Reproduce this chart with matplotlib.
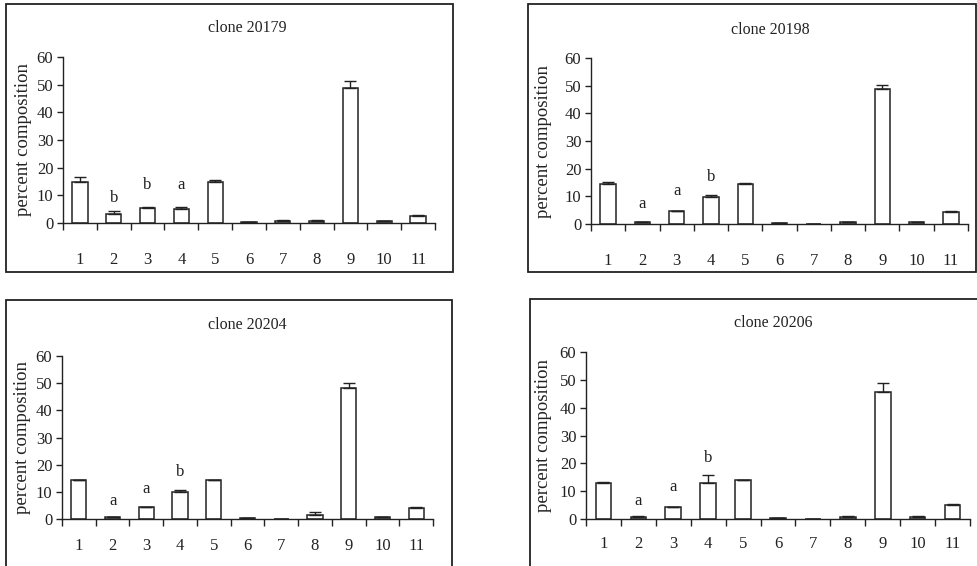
import matplotlib
matplotlib.use("Agg")
import matplotlib.pyplot as plt
from matplotlib.patches import Rectangle
from matplotlib.ticker import FixedLocator
import numpy as np

plt.rcParams['font.family'] = ['Liberation Serif', 'DejaVu Serif']

categories = ['1', '2', '3', '4', '5', '6', '7', '8', '9', '10', '11']
titles = ['clone 20179', 'clone 20198', 'clone 20204', 'clone 20206']

vals_20179 = [14.9, 3.4, 5.6, 5.1, 14.9, 0.3, 0.7, 0.7, 48.8, 0.6, 2.5]
errs_20179 = [1.8, 1.0, 0.3, 0.7, 0.6, 0.1, 0.4, 0.4, 2.6, 0.2, 0.5]
vals_20198 = [14.3, 0.6, 4.6, 9.7, 14.3, 0.3, 0.05, 0.6, 48.8, 0.6, 4.2]
errs_20198 = [1.0, 0.2, 0.1, 0.8, 0.4, 0.1, 0.0, 0.2, 1.3, 0.2, 0.4]
vals_20204 = [14.2, 0.6, 4.3, 9.9, 14.2, 0.2, 0.0, 1.5, 48.3, 0.6, 4.2]
errs_20204 = [0.3, 0.0, 0.2, 0.6, 0.3, 0.0, 0.0, 1.1, 1.9, 0.0, 0.3]
vals_20206 = [13.1, 0.8, 4.2, 13.1, 14.0, 0.2, 0.0, 0.8, 45.6, 0.8, 4.9]
errs_20206 = [0.3, 0.3, 0.2, 2.8, 0.1, 0.0, 0.0, 0.2, 3.4, 0.3, 0.4]

letters = ['b', 'b', 'a'], ['a', 'a', 'b'], ['a', 'a', 'b'], ['a', 'a', 'b']
letter_y = [[9.2, 13.9, 13.9], [7.1, 12.0, 17.1], [6.5, 11.0, 17.2], [6.5, 11.5, 22.0]]
letter_bars = [2, 3, 4]

all_vals = [vals_20179, vals_20198, vals_20204, vals_20206]
all_errs = [errs_20179, errs_20198, errs_20204, errs_20206]

W, H = 977, 566
fig = plt.figure(figsize=(W / 100, H / 100), dpi=100)
fig.patch.set_facecolor('white')

# panel frames (pixel coords: left, top, right, bottom)
frames = [(6, 4, 453, 272), (528, 4, 976, 272), (6, 300, 452, 600), (530, 299, 1000, 600)]
# axes (left, right, y0 pixel, y60 pixel)
axes_px = [(63, 435, 223, 57), (591, 968, 224, 58), (62, 433, 519, 356), (586, 970, 519, 352)]
title_xy = [(247, 28), (770, 30), (247, 325), (773, 323)]
xlabel_pad = [21, 21, 14, 12]
ylabel_x = [32, 552, 31, 552]

ink = '#222222'

for (l, t, r, b) in frames:
    fig.patches.append(Rectangle((l / W, 1 - b / H), (r - l) / W, (b - t) / H,
                                 transform=fig.transFigure, fill=False,
                                 edgecolor=ink, linewidth=1.3, clip_on=True))

x = np.arange(1, 12)
for i in range(4):
    l, r, y0, y60 = axes_px[i]
    ax = fig.add_axes([l / W, 1 - y0 / H, (r - l) / W, (y0 - y60) / H])
    ax.set_facecolor('none')
    vals = all_vals[i]
    errs = all_errs[i]
    ax.bar(x, vals, width=0.45, color='white', edgecolor=ink, linewidth=1.1, zorder=2)
    ax.errorbar(x, vals, yerr=[np.zeros(len(vals)), errs], fmt='none',
                ecolor=ink, elinewidth=1.0, capsize=4, capthick=1.0, zorder=3)
    ax.set_xlim(0.5, 11.5)
    ax.set_ylim(0, 60)
    for s in ['top', 'right']:
        ax.spines[s].set_visible(False)
    for s in ['left', 'bottom']:
        ax.spines[s].set_color(ink)
        ax.spines[s].set_linewidth(1.0)
    ax.set_yticks(np.arange(0, 61, 10))
    ax.tick_params(axis='y', direction='out', length=4, width=1.0, colors=ink,
                   labelsize=12, pad=3)
    ax.set_xticks(x)
    ax.set_xticklabels(categories)
    ax.tick_params(axis='x', which='major', length=0, labelsize=12, colors=ink,
                   pad=xlabel_pad[i])
    ax.xaxis.set_minor_locator(FixedLocator(np.arange(0.5, 11.6, 1.0)))
    ax.tick_params(axis='x', which='minor', direction='out', length=5, width=1.0, colors=ink)
    ax.set_ylabel('percent composition', fontsize=13.5, color=ink)
    ax.yaxis.set_label_coords((ylabel_x[i] - l) / (r - l), 0.5)
    tx, ty = title_xy[i]
    fig.text(tx / W, 1 - ty / H, titles[i], ha='center', va='center',
             fontsize=11.5, color=ink)
    for k, bidx in enumerate(letter_bars):
        ax.text(bidx, letter_y[i][k], letters[i][k], ha='center', va='center',
                fontsize=12, color=ink)

fig.savefig('out.png', dpi=100)
